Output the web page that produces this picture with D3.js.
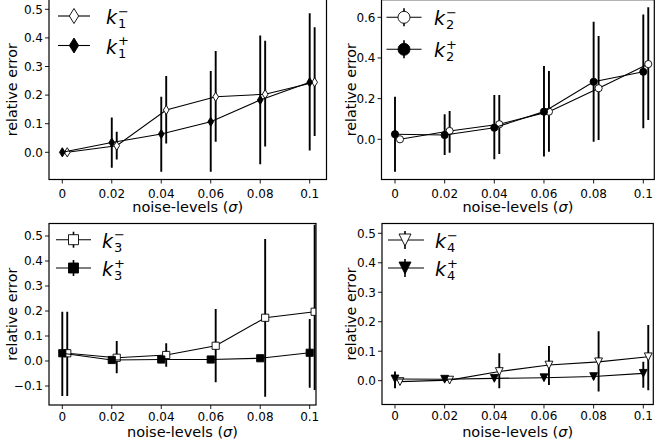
<!DOCTYPE html>
<html><head><meta charset="utf-8">
<script src="https://cdn.jsdelivr.net/npm/d3@7"></script>
<style>
html,body{margin:0;padding:0;background:#fff;}
svg{display:block;}
text{font-family:"DejaVu Sans",sans-serif;fill:#000;}
</style></head>
<body>
<svg id="chart" width="655" height="442"></svg>
<script>
// ---------------- data ----------------
const noiseLevels = [0, 0.02, 0.04, 0.06, 0.08, 0.1];
const xTickLabels = ["0", "0.02", "0.04", "0.06", "0.08", "0.1"];
const minusShift = 0.002;

const k1MinusMean = [0.0, 0.023, 0.148, 0.194, 0.203, 0.245];
const k1MinusLow  = [-0.010, -0.025, 0.031, 0.037, 0.020, 0.057];
const k1MinusHigh = [0.010, 0.072, 0.267, 0.354, 0.390, 0.437];
const k1PlusMean  = [0.0, 0.034, 0.064, 0.107, 0.183, 0.245];
const k1PlusLow   = [-0.012, -0.054, -0.068, -0.068, -0.042, 0.006];
const k1PlusHigh  = [0.012, 0.122, 0.194, 0.284, 0.408, 0.486];

const k2MinusMean = [0.0, 0.041, 0.074, 0.136, 0.251, 0.370];
const k2MinusLow  = [-0.010, -0.066, -0.072, -0.061, -0.003, 0.095];
const k2MinusHigh = [0.010, 0.139, 0.218, 0.336, 0.508, 0.649];
const k2PlusMean  = [0.025, 0.021, 0.057, 0.136, 0.283, 0.332];
const k2PlusLow   = [-0.159, -0.077, -0.098, -0.085, -0.012, 0.054];
const k2PlusHigh  = [0.209, 0.123, 0.218, 0.360, 0.578, 0.614];

const k3MinusMean = [0.031, 0.013, 0.024, 0.061, 0.173, 0.197];
const k3MinusLow  = [-0.140, -0.049, -0.023, -0.085, -0.143, -0.116];
const k3MinusHigh = [0.197, 0.080, 0.071, 0.208, 0.488, 0.545];
const k3PlusMean  = [0.031, 0.004, 0.006, 0.006, 0.011, 0.033];
const k3PlusLow   = [-0.140, -0.005, -0.003, -0.003, 0.002, -0.107];
const k3PlusHigh  = [0.197, 0.013, 0.015, 0.015, 0.020, 0.168];

const k4MinusMean = [-0.003, 0.002, 0.031, 0.053, 0.064, 0.081];
const k4MinusLow  = [-0.010, -0.005, -0.026, -0.015, -0.037, -0.032];
const k4MinusHigh = [0.005, 0.009, 0.093, 0.118, 0.168, 0.189];
const k4PlusMean  = [0.006, 0.005, 0.008, 0.010, 0.014, 0.025];
const k4PlusLow   = [-0.026, -0.002, 0.000, 0.000, 0.005, -0.024];
const k4PlusHigh  = [0.031, 0.012, 0.015, 0.020, 0.025, 0.064];

const yTicks1 = [0.0, 0.1, 0.2, 0.3, 0.4, 0.5];
const yTicks2 = [0.0, 0.2, 0.4, 0.6];
const yTicks3 = [-0.1, 0.0, 0.1, 0.2, 0.3, 0.4, 0.5];
const yTicks4 = [0.0, 0.1, 0.2, 0.3, 0.4, 0.5];

const seriesNames = [["k", "1"], ["k", "2"], ["k", "3"], ["k", "4"]];
const markerShapes = ["diamond", "circle", "square", "triangle"];
const xLabel = "noise-levels (";
const yLabel = "relative error";

// ---------------- layout ----------------
const panels = [
  {box:[49, -1.5, 326.5, 179.5], xr:[62.3, 309.7], yd:[0, 0.5], yr:[152.3, 9.3], yTicks:yTicks1,
   minus:[k1MinusMean,k1MinusLow,k1MinusHigh], plus:[k1PlusMean,k1PlusLow,k1PlusHigh],
   leg:{x0:58, x1:90, mx:74, rows:[16, 45.5], tx:106, eb:false}, tickY:197.5, xlabY:211.5, ylabX:12},
  {box:[381.5, -0.3, 654.3, 179.5], xr:[395, 643.3], yd:[0, 0.6], yr:[139.3, 17.3], yTicks:yTicks2,
   minus:[k2MinusMean,k2MinusLow,k2MinusHigh], plus:[k2PlusMean,k2PlusLow,k2PlusHigh],
   leg:{x0:386.5, x1:421.5, mx:404, rows:[17.3, 49.3], tx:434, eb:true}, tickY:197.5, xlabY:211.5, ylabX:351},
  {box:[49, 223.5, 316, 405], xr:[62.3, 309.7], yd:[0, 0.5], yr:[361, 236], yTicks:yTicks3,
   minus:[k3MinusMean,k3MinusLow,k3MinusHigh], plus:[k3PlusMean,k3PlusLow,k3PlusHigh],
   leg:{x0:56, x1:91, mx:73.5, rows:[239.7, 268], tx:102, eb:true}, tickY:420.5, xlabY:437, ylabX:12},
  {box:[382, 223.5, 653.3, 404.5], xr:[395, 643.3], yd:[0, 0.5], yr:[380.7, 233.3], yTicks:yTicks4,
   minus:[k4MinusMean,k4MinusLow,k4MinusHigh], plus:[k4PlusMean,k4PlusLow,k4PlusHigh],
   leg:{x0:388, x1:424, mx:405, rows:[240, 268], tx:435, eb:true}, tickY:420, xlabY:436.5, ylabX:351}
];

const svg = d3.select("#chart");

function markerPath(shape, s) {
  const p = d3.path();
  if (shape === "diamond") {
    const w = s * 0.62;
    p.moveTo(0, -s); p.lineTo(w, 0); p.lineTo(0, s); p.lineTo(-w, 0); p.closePath();
  } else if (shape === "circle") {
    p.moveTo(s, 0); p.arc(0, 0, s, 0, 2 * Math.PI); p.closePath();
  } else if (shape === "square") {
    p.rect(-s, -s, 2 * s, 2 * s);
  } else {
    p.moveTo(-s, -s); p.lineTo(s, -s); p.lineTo(0, s); p.closePath();
  }
  return p.toString();
}
const plotSize = {diamond:4.6, circle:3.6, square:3.6, triangle:3.9};
const legSize = {diamond:7.5, circle:6, square:5, triangle:6};

panels.forEach((P, i) => {
  const [L, T, R, B] = P.box;
  const x = d3.scaleLinear().domain([0, 0.1]).range(P.xr);
  const y = d3.scaleLinear().domain(P.yd).range(P.yr);
  const shape = markerShapes[i];
  const g = svg.append("g");

  const clipId = "clip" + i;
  svg.append("clipPath").attr("id", clipId).append("rect")
     .attr("x", L).attr("y", T).attr("width", R - L).attr("height", B - T);
  const plot = g.append("g").attr("clip-path", `url(#${clipId})`);

  const series = [
    {vals:P.minus, shift:minusShift, fill:"#fff"},
    {vals:P.plus, shift:0, fill:"#000"}
  ];
  series.forEach(S => {
    const [mean, lo, hi] = S.vals;
    const pts = noiseLevels.map((n, j) => ({x:n + S.shift, m:mean[j], lo:lo[j], hi:hi[j]}));
    const sg = plot.append("g");
    sg.selectAll("line.eb").data(pts).join("line").attr("class", "eb")
      .attr("x1", d => x(d.x)).attr("x2", d => x(d.x))
      .attr("y1", d => y(d.lo)).attr("y2", d => y(d.hi))
      .attr("stroke", "#000").attr("stroke-width", 1.9);
    sg.append("path").datum(pts)
      .attr("d", d3.line().x(d => x(d.x)).y(d => y(d.m)))
      .attr("fill", "none").attr("stroke", "#000").attr("stroke-width", 1.1);
    sg.selectAll("path.mk").data(pts).join("path").attr("class", "mk")
      .attr("transform", d => `translate(${x(d.x)},${y(d.m)})`)
      .attr("d", markerPath(shape, plotSize[shape]))
      .attr("fill", S.fill).attr("stroke", "#000").attr("stroke-width", 0.9);
  });

  // frame
  g.append("rect").attr("x", L).attr("y", T).attr("width", R - L).attr("height", B - T)
   .attr("fill", "none").attr("stroke", "#000").attr("stroke-width", 1.2);

  // x axis
  const xa = g.append("g");
  noiseLevels.forEach((n, j) => {
    xa.append("line").attr("x1", x(n)).attr("x2", x(n)).attr("y1", B).attr("y2", B + 4)
      .attr("stroke", "#000").attr("stroke-width", 0.9);
    xa.append("text").attr("x", x(n)).attr("y", P.tickY).attr("text-anchor", "middle")
      .attr("font-size", 12).text(xTickLabels[j]);
  });
  const xl = g.append("text").attr("x", (L + R) / 2).attr("y", P.xlabY)
    .attr("text-anchor", "middle").attr("font-size", 14.5);
  xl.append("tspan").text(xLabel);
  xl.append("tspan").attr("font-style", "italic").text("\u03c3");
  xl.append("tspan").text(")");

  // y axis
  const fmt = d3.format(".1f");
  P.yTicks.forEach(v => {
    g.append("line").attr("x1", L - 4).attr("x2", L).attr("y1", y(v)).attr("y2", y(v))
      .attr("stroke", "#000").attr("stroke-width", 0.9);
    g.append("text").attr("x", L - 6).attr("y", y(v) + 4.3).attr("text-anchor", "end")
      .attr("font-size", 12).text(fmt(v).replace("-", "\u2212"));
  });
  g.append("text").attr("transform", `translate(${P.ylabX},${(Math.max(T, 0) + B) / 2}) rotate(-90)`)
    .attr("text-anchor", "middle").attr("dy", "0.35em").attr("font-size", 14.3).text(yLabel);

  // legend
  const lg = g.append("g");
  const legSeries = [{fill:"#fff", sup:"\u2212"}, {fill:"#000", sup:"+"}];
  legSeries.forEach((S, r) => {
    const ry = P.leg.rows[r];
    lg.append("line").attr("x1", P.leg.x0).attr("x2", P.leg.x1).attr("y1", ry).attr("y2", ry)
      .attr("stroke", "#000").attr("stroke-width", 1.1);
    const s = legSize[shape];
    if (P.leg.eb) {
      lg.append("line").attr("x1", P.leg.mx).attr("x2", P.leg.mx)
        .attr("y1", ry - s - 3).attr("y2", ry + s + 3)
        .attr("stroke", "#000").attr("stroke-width", 1.6);
    }
    lg.append("path").attr("transform", `translate(${P.leg.mx},${ry})`)
      .attr("d", markerPath(shape, s))
      .attr("fill", S.fill).attr("stroke", "#000").attr("stroke-width", 0.9);
    const base = ry + 8;
    const lt = lg.append("text").attr("x", P.leg.tx).attr("y", base);
    lt.append("tspan").attr("font-size", 19).attr("font-style", "italic").text(seriesNames[i][0]);
    lt.append("tspan").attr("font-size", 13).attr("dx", 1).attr("dy", -8.5).text(S.sup);
    lt.append("tspan").attr("font-size", 13).attr("dx", -10.9).attr("dy", 12.5).text(seriesNames[i][1]);
  });
});
</script>
</body></html>
